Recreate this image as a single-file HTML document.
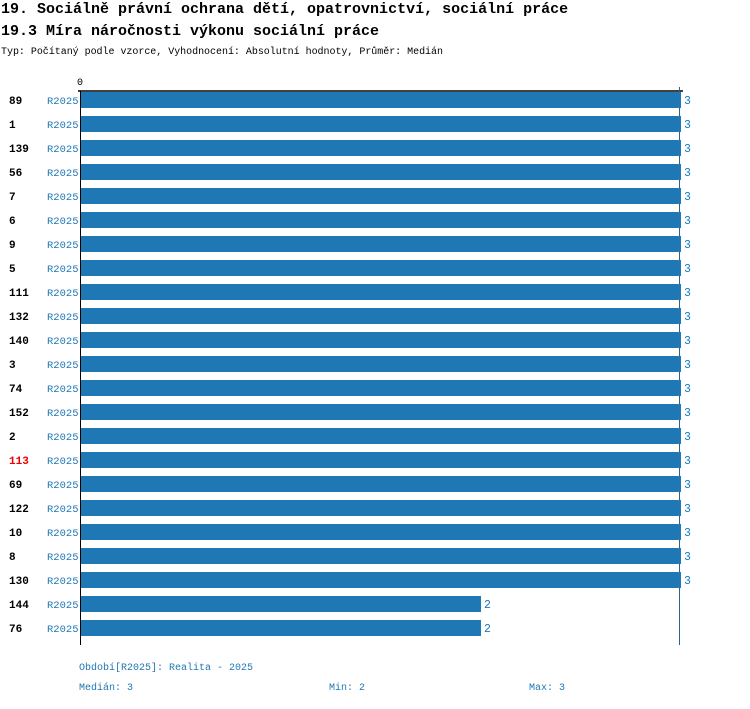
<!DOCTYPE html>
<html><head><meta charset="utf-8"><style>
body{margin:0;background:#fff;width:750px;height:704px;overflow:hidden;font-family:"Liberation Mono","DejaVu Sans Mono",monospace;}
svg text{font-family:"Liberation Mono","DejaVu Sans Mono",monospace;}
</style></head><body>
<svg id="chart" width="750" height="704">
<text x="1" y="13" font-size="15" font-weight="bold" fill="#000">19. Sociálně právní ochrana dětí, opatrovnictví, sociální práce</text>
<text x="1" y="35" font-size="15" font-weight="bold" fill="#000">19.3 Míra náročnosti výkonu sociální práce</text>
<text x="1" y="54" font-size="10" textLength="442" fill="#000">Typ: Počítaný podle vzorce, Vyhodnocení: Absolutní hodnoty, Průměr: Medián</text>
<text x="77" y="85" font-size="10" fill="#000">0</text>
<line x1="78" y1="91" x2="683" y2="91" stroke="#000" stroke-width="1.5"/>
<line x1="80.5" y1="91" x2="80.5" y2="645" stroke="#000" stroke-width="1"/>
<line x1="679.5" y1="87" x2="679.5" y2="645" stroke="#2f5f8a" stroke-width="1"/>
<g id="bars"></g>
<text x="79" y="670" font-size="10" textLength="174" fill="#1f77b4">Období[R2025]: Realita - 2025</text>
<text x="79" y="690" font-size="10" fill="#1f77b4">Medián: 3</text>
<text x="329" y="690" font-size="10" fill="#1f77b4">Min: 2</text>
<text x="529" y="690" font-size="10" fill="#1f77b4">Max: 3</text>
</svg>
<script>
const categories = ["89","1","139","56","7","6","9","5","111","132","140","3","74","152","2","113","69","122","10","8","130","144","76"];
const values = [3,3,3,3,3,3,3,3,3,3,3,3,3,3,3,3,3,3,3,3,3,2,2];
const periods = ["R2025"];
const highlighted = ["113"];
const ns = "http://www.w3.org/2000/svg";
const x0 = 81, xScale = 200;
function xPos(v){return x0 + v*xScale;}
function yPos(i){return 92 + i*24;}
const g = document.getElementById("bars");
function mk(tag, attrs, txt){const e=document.createElementNS(ns,tag);for(const k in attrs)e.setAttribute(k,attrs[k]);if(txt!==undefined)e.textContent=txt;g.appendChild(e);return e;}
categories.forEach((c,i)=>{
  const y=yPos(i);
  const lab=mk("text",{x:9,y:y+12,"font-size":"11","font-weight":"bold",fill:highlighted.includes(c)?"#e00":"#000"},c);
  
  
  const per=mk("text",{x:47,y:y+12,"font-size":"10.5",fill:"#1f77b4"},periods[0]);
  
  
  const r=mk("rect",{x:x0,y:y,width:xPos(values[i])-x0,height:16,fill:"#1f77b4"});
  
  
  const vl=mk("text",{x:xPos(values[i])+3,y:y+12,"font-size":"11.5",fill:"#1f77b4"},String(values[i]));
  
  
});
</script>
</body></html>
